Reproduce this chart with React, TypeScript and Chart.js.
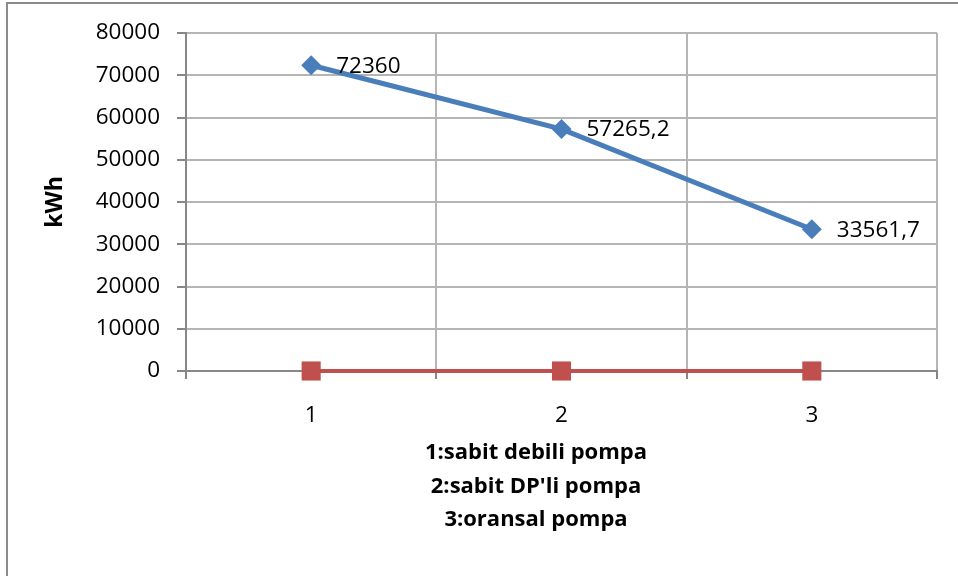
import React, { useEffect, useRef } from "react";
import { Chart, registerables } from "chart.js";

Chart.register(...registerables);

// Pump variants on the category axis
const categories = ["1", "2", "3"];
// Annual energy use per pump variant (kWh)
const energyKWh = [72360, 57265.2, 33561.7];
// Second series, sitting on the zero line
const secondSeries = [0, 0, 0];
// Value axis range
const yMin = 0;
const yMax = 80000;
const yStep = 10000;
// Axis titles
const yTitle = "kWh";
const xTitleLines = ["1:sabit debili pompa", "2:sabit DP'li pompa", "3:oransal pompa"];

const FONT = "'Open Sans', 'Liberation Sans', sans-serif";
const GRID = "#b5b5b5";
const AXIS = "#878787";

const formatValue = (v: number) => String(v).replace(".", ",");

const annotations = {
  id: "annotations",
  afterDatasetsDraw(chart: any) {
    const ctx = chart.ctx as CanvasRenderingContext2D;
    const area = chart.chartArea;
    ctx.save();
    ctx.fillStyle = "#000";

    // value labels next to the blue markers
    ctx.font = `22.5px ${FONT}`;
    ctx.textAlign = "left";
    ctx.textBaseline = "middle";
    const meta = chart.getDatasetMeta(0);
    meta.data.forEach((pt: any, i: number) => {
      ctx.fillText(formatValue(energyKWh[i]), pt.x + 25, pt.y + 1);
    });

    // vertical axis title
    ctx.font = `bold 23px ${FONT}`;
    ctx.textAlign = "center";
    ctx.save();
    ctx.translate(55, (area.top + area.bottom) / 2);
    ctx.rotate(-Math.PI / 2);
    ctx.fillText(yTitle, 0, 0);
    ctx.restore();

    // horizontal axis title, three lines
    ctx.font = `bold 22px ${FONT}`;
    const lineYs = [453, 487, 520];
    xTitleLines.forEach((line, i) => {
      ctx.fillText(line, 536, lineYs[i]);
    });
    ctx.restore();
  },
};

export default function App() {
  const canvasRef = useRef<HTMLCanvasElement | null>(null);

  useEffect(() => {
    if (!canvasRef.current) return;
    const chart = new Chart(canvasRef.current, {
      type: "line",
      data: {
        labels: categories,
        datasets: [
          {
            data: energyKWh,
            borderColor: "#4a7ebb",
            backgroundColor: "#4a7ebb",
            borderWidth: 5,
            pointStyle: "rectRot",
            pointRadius: 10,
            pointBorderWidth: 0,
            tension: 0,
            clip: false,
          },
          {
            data: secondSeries,
            borderColor: "#c0504d",
            backgroundColor: "#c0504d",
            borderWidth: 4,
            pointStyle: "rect",
            pointRadius: 13.5,
            pointBorderWidth: 0,
            tension: 0,
            clip: false,
          },
        ],
      },
      options: {
        responsive: false,
        animation: false,
        events: [],
        layout: { padding: { top: 33, right: 21, left: 0, bottom: 0 } },
        plugins: {
          legend: { display: false },
          tooltip: { enabled: false },
        },
        scales: {
          x: {
            type: "category",
            offset: true,
            grid: {
              offset: true,
              color: GRID,
              lineWidth: 2,
              tickLength: 8,
              tickColor: AXIS,
            },
            border: { color: AXIS, width: 2 },
            ticks: {
              color: "#000",
              font: { family: FONT, size: 22.5 },
              padding: 23,
              maxRotation: 0,
            },
            afterFit: (s: any) => {
              s.height = 205;
            },
          },
          y: {
            min: yMin,
            max: yMax,
            grid: {
              color: GRID,
              lineWidth: 2,
              tickLength: 9,
              tickColor: AXIS,
            },
            border: { color: AXIS, width: 2 },
            ticks: {
              stepSize: yStep,
              color: "#000",
              font: { family: FONT, size: 22.5 },
              padding: 17,
              callback: (v: any) => String(v),
            },
            afterFit: (s: any) => {
              s.width = 186;
            },
          },
        },
      },
      plugins: [annotations],
    });
    return () => chart.destroy();
  }, []);

  return (
    <div
      style={{
        position: "absolute",
        left: 0,
        top: 0,
        width: 958,
        height: 576,
        overflow: "hidden",
        background: "#fff",
      }}
    >
      <div
        style={{
          position: "absolute",
          left: 6,
          top: 2,
          width: 1200,
          height: 1200,
          border: "2px solid #8c8c8c",
          boxSizing: "border-box",
        }}
      />
      <canvas
        ref={canvasRef}
        width={958}
        height={576}
        style={{ position: "absolute", left: 0, top: 0, width: 958, height: 576 }}
      />
    </div>
  );
}
